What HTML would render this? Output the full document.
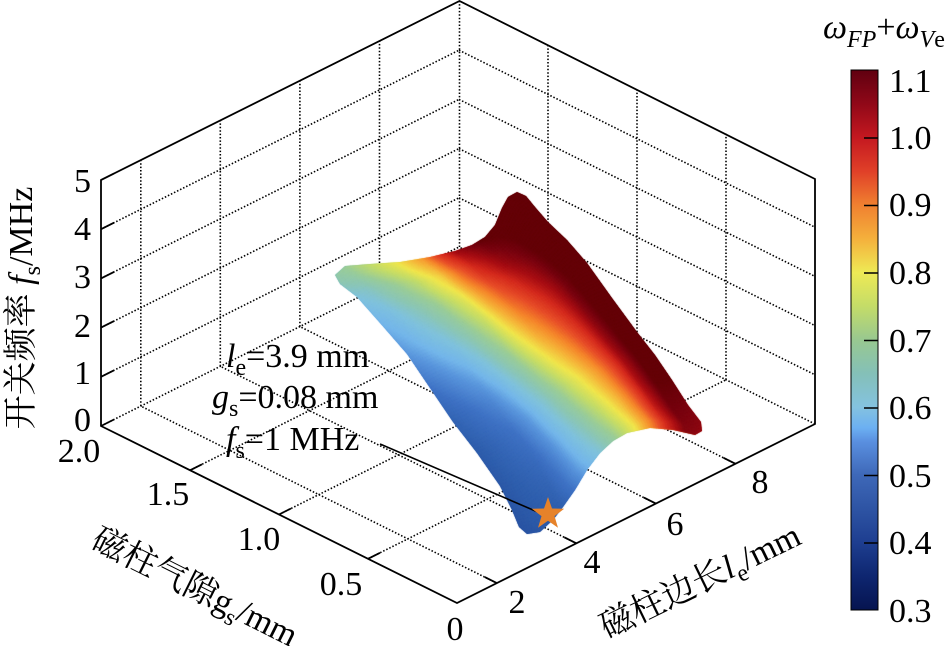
<!DOCTYPE html>
<html><head><meta charset="utf-8"><style>html,body{margin:0;padding:0;background:#fff;}svg,canvas{display:block;position:absolute;left:0;top:0}#w{position:relative;width:948px;height:646px;overflow:hidden;background:#fff}</style></head><body>
<div id="w">
<svg width="948" height="646" viewBox="0 0 948 646" xmlns="http://www.w3.org/2000/svg">
<defs>
<linearGradient id="sg" gradientUnits="userSpaceOnUse" x1="-80.4" y1="114.7" x2="57.4" y2="-81.9">
<stop offset="0.021" stop-color="#2a54a2"/>
<stop offset="0.179" stop-color="#3060ae"/>
<stop offset="0.271" stop-color="#3f72c4"/>
<stop offset="0.354" stop-color="#5a96dc"/>
<stop offset="0.425" stop-color="#74b6ea"/>
<stop offset="0.5" stop-color="#86c4cc"/>
<stop offset="0.583" stop-color="#9acc98"/>
<stop offset="0.646" stop-color="#c4dc68"/>
<stop offset="0.7" stop-color="#f0e64c"/>
<stop offset="0.738" stop-color="#f5922e"/>
<stop offset="0.775" stop-color="#d42a1e"/>
<stop offset="0.842" stop-color="#a80e14"/>
<stop offset="0.904" stop-color="#780410"/>
<stop offset="0.979" stop-color="#650008"/>
</linearGradient>
</defs>
<rect width="948" height="646" fill="#fff"/>
<path fill="none" stroke="#000" stroke-width="1.6" stroke-dasharray="1.5 1.9" d="
M368,558.8L726,379.8 M279,514.5L637,335.5 M190,470.3L548,291.3 M101,426L459,247
M496.8,583.1L140.8,406.1 M576.3,543.3L220.3,366.3 M655.9,503.6L299.9,326.6 M735.5,463.8L379.5,286.8 M815,424L459,247
M101,376.8L459,197.8 M101,327.6L459,148.6 M101,278.4L459,99.4 M101,229.2L459,50.2
M140.8,406.1V160.1 M220.3,366.3V120.3 M299.9,326.6V80.6 M379.5,286.8V40.8 M459.5,247V1
M459,197.8L815,374.8 M459,148.6L815,325.6 M459,99.4L815,276.4 M459,50.2L815,227.2
M548,291.3V45.3 M637,335.5V89.5 M726,379.8V133.8"/>
<path fill="none" stroke="#000" stroke-width="1.8" d="M101,180L459.5,1L815,179L815,424L457,603L101,426Z"/>
<path fill="none" stroke="#000" stroke-width="1.8" d="
M101,426l13,-6.5 M101,376.8l13,-6.5 M101,327.6l13,-6.5 M101,278.4l13,-6.5 M101,229.2l13,-6.5 M101,180l13,-6.5
M368,558.8l12,-6 M279,514.5l12,-6 M190,470.3l12,-6
M496.8,583.1l-12,-6 M576.3,543.3l-12,-6 M655.9,503.6l-12,-6 M735.5,463.8l-12,-6"/>
<path id="outline" fill="url(#sg)" d="M335,275 L345,266 L370,264 L400,262 L430,257 L455,251 L472,245 L485,237 L495,225 L502,208 L508,197 L517,192 L526,196 L535,207 L548,222 L567,240 L587,263 L612,298 L637,332 L655,355 L672,380 L688,405 L701,422 L702,431 L695,435 L673,430 L650,428 L627,433 L613,441 L600,453 L587,470 L575,490 L563,507 L553,520 L540,532 L527,534 L519,527 L512,510 L500,486 L477,453 L453,422 L430,388 L407,354 L380,323 L357,297 L340,284 Z"/>
</svg>
<canvas id="cv" width="948" height="646"></canvas>
<svg width="948" height="646" viewBox="0 0 948 646" xmlns="http://www.w3.org/2000/svg" font-family="'Liberation Serif','Noto Serif CJK SC',serif" font-size="34" fill="#000">
<defs>
<linearGradient id="cb" x1="0" y1="0" x2="0" y2="1">
<stop offset="0" stop-color="#600010"/>
<stop offset="0.0625" stop-color="#900818"/>
<stop offset="0.125" stop-color="#c41820"/>
<stop offset="0.1875" stop-color="#e04028"/>
<stop offset="0.25" stop-color="#f08030"/>
<stop offset="0.3125" stop-color="#f4b03c"/>
<stop offset="0.375" stop-color="#eeea55"/>
<stop offset="0.4375" stop-color="#c4dc68"/>
<stop offset="0.5" stop-color="#98c890"/>
<stop offset="0.5625" stop-color="#84c0b8"/>
<stop offset="0.625" stop-color="#84c2e0"/>
<stop offset="0.6625" stop-color="#6cb0f2"/>
<stop offset="0.6875" stop-color="#5a90e0"/>
<stop offset="0.75" stop-color="#3e68b8"/>
<stop offset="0.8125" stop-color="#2e54a4"/>
<stop offset="0.875" stop-color="#1e3e90"/>
<stop offset="0.9375" stop-color="#0e2670"/>
<stop offset="1" stop-color="#061450"/>
</linearGradient>
</defs>
<path d="M380,444L540,513" stroke="#000" stroke-width="1.6" fill="none"/>
<polygon fill="#e6822a" points="548,497 552,508.5 564.2,508.7 554.5,516.1 558,527.8 548,520.8 538,527.8 541.5,516.1 531.8,508.7 544,508.5"/>
<g text-anchor="end">
<text x="91" y="192">5</text>
<text x="91" y="240">4</text>
<text x="91" y="288">3</text>
<text x="91" y="337">2</text>
<text x="91" y="384">1</text>
<text x="91" y="431">0</text>
</g>
<g text-anchor="middle">
<text x="79" y="462">2.0</text>
<text x="168" y="505">1.5</text>
<text x="259" y="550">1.0</text>
<text x="341" y="595">0.5</text>
<text x="455" y="640">0</text>
<text x="517" y="613">2</text>
<text x="592" y="573">4</text>
<text x="675" y="535">6</text>
<text x="760" y="493">8</text>
</g>
<text x="226" y="367"><tspan font-style="italic">l</tspan><tspan font-size="24" dy="8">e</tspan><tspan dy="-8">=3.9 mm</tspan></text>
<text x="212" y="408"><tspan font-style="italic">g</tspan><tspan font-size="24" dy="8">s</tspan><tspan dy="-8">=0.08 mm</tspan></text>
<text x="226" y="450"><tspan font-style="italic">f</tspan><tspan font-size="24" dy="8">s</tspan><tspan dy="-8">=1 MHz</tspan></text>
<text transform="translate(32,308) rotate(-90)" text-anchor="middle">开关频率 <tspan font-style="italic">f</tspan><tspan font-size="24" dy="8">s</tspan><tspan dy="-8">/MHz</tspan></text>
<text transform="translate(190,597) rotate(26.5)" text-anchor="middle">磁柱气隙g<tspan font-size="24" dy="8">s</tspan><tspan dy="-8">/mm</tspan></text>
<text transform="translate(705,591) rotate(-26)" text-anchor="middle">磁柱边长<tspan font-style="italic">l</tspan><tspan font-size="24" dy="8">e</tspan><tspan dy="-8">/mm</tspan></text>
<rect x="851" y="70" width="27" height="540" fill="url(#cb)" stroke="#000" stroke-width="1"/>
<path stroke="#000" stroke-width="1.5" d="M864,138H878 M864,205.5H878 M864,273H878 M864,340.5H878 M864,408H878 M864,475.5H878 M864,543H878"/>
<text x="889" y="92">1.1</text>
<text x="889" y="149">1.0</text>
<text x="889" y="216">0.9</text>
<text x="889" y="284">0.8</text>
<text x="889" y="352">0.7</text>
<text x="889" y="419">0.6</text>
<text x="889" y="487">0.5</text>
<text x="889" y="554">0.4</text>
<text x="889" y="622">0.3</text>
<text x="823" y="38"><tspan font-style="italic">ω</tspan><tspan font-size="24" font-style="italic" dy="9">FP</tspan><tspan dy="-9">+</tspan><tspan font-style="italic">ω</tspan><tspan font-size="24" font-style="italic" dy="9">V</tspan><tspan font-size="24">e</tspan></text>
</svg>
</div>
<script>
(function(){
try{
var cv=document.getElementById('cv');var ctx=cv.getContext('2d');
var T=[[335,275],[345,266],[370,264],[400,262],[430,257],[455,251],[472,245],[485,237],[495,225],[502,208],[508,197],[517,192]];
var R=[[517,192],[526,196],[535,207],[548,222],[567,240],[587,263],[612,298],[637,332],[655,355],[672,380],[688,405],[701,422],[702,431]];
var Bo=[[527,534],[540,532],[553,520],[563,507],[575,490],[587,470],[600,453],[613,441],[627,433],[650,428],[673,430],[695,435],[702,431]];
var L=[[335,275],[340,284],[357,297],[380,323],[407,354],[430,388],[453,422],[477,453],[500,486],[512,510],[519,527],[527,534]];
function prep(p){var c=[0];for(var i=1;i<p.length;i++){c.push(c[i-1]+Math.hypot(p[i][0]-p[i-1][0],p[i][1]-p[i-1][1]));}var tot=c[c.length-1];return {p:p,c:c.map(function(v){return v/tot;})};}
function at(e,u){var c=e.c,p=e.p;for(var i=1;i<c.length;i++){if(u<=c[i]||i==c.length-1){var f=(u-c[i-1])/(c[i]-c[i-1]);if(f<0)f=0;if(f>1)f=1;return [p[i-1][0]+f*(p[i][0]-p[i-1][0]),p[i-1][1]+f*(p[i][1]-p[i-1][1])];}}}
function pl(k,u){for(var i=1;i<k.length;i++){if(u<=k[i][0]||i==k.length-1){var f=(u-k[i-1][0])/(k[i][0]-k[i-1][0]);f=Math.max(0,Math.min(1,f));return k[i-1][1]+f*(k[i][1]-k[i-1][1]);}}}
var eT=prep(T),eR=prep(R),eB=prep(Bo),eL=prep(L);
var A=T[0],B=T[T.length-1],D=L[L.length-1],C=R[R.length-1];
var ft=[[0,0.68],[0.15,0.74],[0.3,0.8],[0.42,0.88],[0.5,0.98],[0.58,1.05],[0.7,1.1],[1,1.15]];
var fb=[[0,0.42],[0.21,0.45],[0.3,0.5],[0.41,0.57],[0.5,0.62],[0.6,0.7],[0.7,0.8],[0.77,0.9],[0.84,1.0],[0.92,1.07],[1,1.06]];
var fl=[[0,0.68],[0.1,0.62],[0.2,0.58],[0.33,0.55],[0.46,0.5],[0.58,0.46],[0.7,0.44],[1,0.42]];
var fr=[[0,1.15],[0.8,1.1],[1,1.06]];
var fA=0.68,fB=1.15,fD=0.42,fC=1.06;
var cm=[[0.30,'061450'],[0.35,'0e2670'],[0.40,'1e3e90'],[0.42,'2a54a2'],[0.45,'3060ae'],[0.50,'3f72c4'],[0.55,'5a96dc'],[0.58,'74b6ea'],[0.62,'80c2dc'],[0.66,'8cc6b4'],[0.70,'9acc98'],[0.75,'c4dc68'],[0.80,'f0e64c'],[0.85,'f5b53a'],[0.90,'f5882c'],[0.95,'e8502a'],[1.00,'d42a1e'],[1.04,'a80e14'],[1.08,'780410'],[1.10,'650008']];
cm=cm.map(function(e){var h=e[1];return [e[0],parseInt(h.substr(0,2),16),parseInt(h.substr(2,2),16),parseInt(h.substr(4,2),16)];});
function col(v){if(v<=cm[0][0])return cm[0].slice(1);for(var i=1;i<cm.length;i++){if(v<=cm[i][0]){var f=(v-cm[i-1][0])/(cm[i][0]-cm[i-1][0]);return [0,1,2].map(function(k){return Math.round(cm[i-1][k+1]+f*(cm[i][k+1]-cm[i-1][k+1]));});}}return cm[cm.length-1].slice(1);}
function P(s,t){var a=at(eT,s),b=at(eB,s),l=at(eL,t),r=at(eR,t);var o=[];for(var k=0;k<2;k++){o.push((1-t)*a[k]+t*b[k]+(1-s)*l[k]+s*r[k]-((1-s)*(1-t)*A[k]+s*(1-t)*B[k]+(1-s)*t*D[k]+s*t*C[k]));}return o;}
function F(s,t){return (1-t)*pl(ft,s)+t*pl(fb,s)+(1-s)*pl(fl,t)+s*pl(fr,t)-((1-s)*(1-t)*fA+s*(1-t)*fB+(1-s)*t*fD+s*t*fC);}
var N=90,pts=[];
for(var i=0;i<=N;i++){pts.push([]);for(var j=0;j<=N;j++){pts[i].push(P(i/N,j/N));}}
try{var path=new Path2D(document.getElementById('outline').getAttribute('d'));ctx.save();ctx.clip(path);}catch(e){}
ctx.lineWidth=0.8;ctx.lineJoin='round';
for(var i=0;i<N;i++){for(var j=0;j<N;j++){
var c=col(F((i+0.5)/N,(j+0.5)/N));var cs='rgb('+c[0]+','+c[1]+','+c[2]+')';
ctx.fillStyle=cs;ctx.strokeStyle=cs;
ctx.beginPath();ctx.moveTo(pts[i][j][0],pts[i][j][1]);ctx.lineTo(pts[i+1][j][0],pts[i+1][j][1]);ctx.lineTo(pts[i+1][j+1][0],pts[i+1][j+1][1]);ctx.lineTo(pts[i][j+1][0],pts[i][j+1][1]);ctx.closePath();ctx.fill();ctx.stroke();
}}
try{ctx.restore();}catch(e){}
}catch(err){}
})();
</script>
</body></html>
